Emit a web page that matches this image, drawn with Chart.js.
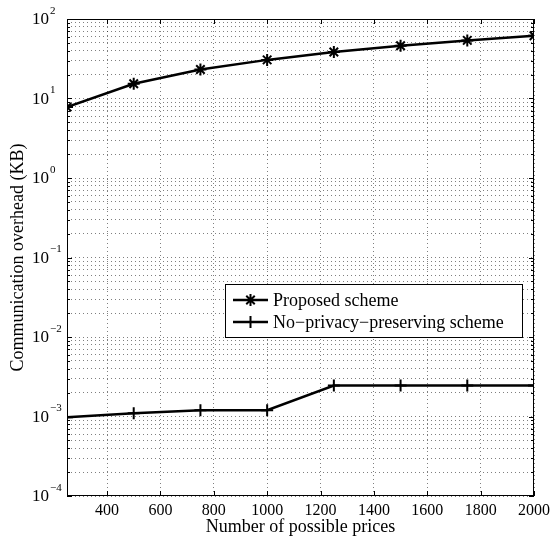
<!DOCTYPE html>
<html>
<head>
<meta charset="utf-8">
<script src="https://cdn.jsdelivr.net/npm/chart.js@4.4.1/dist/chart.umd.min.js"></script>
<style>
  html, body { margin: 0; padding: 0; background: #fff; }
</style>
</head>
<body>
<canvas id="overheadChart" width="555" height="538"></canvas>
<script>
// values
var prices = [250, 500, 750, 1000, 1250, 1500, 1750, 2000];
var proposed = [7.8, 15.3, 23.2, 30.6, 38.5, 46, 53.8, 61.5];
var noPrivacy = [0.00098, 0.0011, 0.0012, 0.0012, 0.00245, 0.00245, 0.00245, 0.00245];
var xTicks = [400, 600, 800, 1000, 1200, 1400, 1600, 1800, 2000];
var yDecades = [-4, -3, -2, -1, 0, 1, 2];
var seriesNames = ['Proposed scheme', 'No\u2212privacy\u2212preserving scheme'];

var serif = '"Liberation Serif", "Times New Roman", serif';

function points(ys) {
  return prices.map(function (p, i) { return { x: p, y: ys[i] }; });
}

// every 1..9 x 10^k tick for the dotted log grid
var yGridTicks = [];
yDecades.forEach(function (e, i) {
  if (i === yDecades.length - 1) { yGridTicks.push({ value: Math.pow(10, e) }); return; }
  for (var m = 1; m <= 9; m++) yGridTicks.push({ value: m * Math.pow(10, e) });
});

var matlabFrame = {
  id: 'matlabFrame',
  afterDraw: function (chart) {
    var ctx = chart.ctx;
    var a = chart.chartArea;
    var xs = chart.scales.x, ys = chart.scales.y;
    ctx.save();
    ctx.strokeStyle = '#000';
    ctx.lineWidth = 1;
    ctx.strokeRect(a.left + 0.5, a.top + 0.5, a.right - a.left - 1, a.bottom - a.top - 1);

    // inward tick marks
    ctx.beginPath();
    xTicks.forEach(function (v) {
      var px = Math.round(xs.getPixelForValue(v)) + 0.5;
      ctx.moveTo(px, a.bottom); ctx.lineTo(px, a.bottom - 5);
      ctx.moveTo(px, a.top); ctx.lineTo(px, a.top + 5);
    });
    yGridTicks.forEach(function (t) {
      var py = Math.round(ys.getPixelForValue(t.value)) + 0.5;
      var major = Math.abs(Math.log10(t.value) - Math.round(Math.log10(t.value))) < 1e-9;
      var len = major ? 5 : 3;
      ctx.moveTo(a.left, py); ctx.lineTo(a.left + len, py);
      ctx.moveTo(a.right, py); ctx.lineTo(a.right - len, py);
    });
    ctx.stroke();

    // y tick labels 10^k
    ctx.fillStyle = '#000';
    ctx.textBaseline = 'middle';
    ctx.textAlign = 'left';
    yDecades.forEach(function (e) {
      var py = ys.getPixelForValue(Math.pow(10, e));
      ctx.font = '17px ' + serif;
      ctx.fillText('10', 32, py + 1);
      var w = ctx.measureText('10').width;
      ctx.font = '11px ' + serif;
      ctx.fillText(String(e).replace('-', '\u2212'), 33 + w, py - 8);
    });

    // legend box
    var lx = 225, ly = 284, lw = 297, lh = 53;
    ctx.fillStyle = '#fff';
    ctx.fillRect(lx, ly, lw, lh);
    ctx.strokeRect(lx + 0.5, ly + 0.5, lw, lh);
    chart.data.datasets.forEach(function (ds, i) {
      var cy = ly + 16 + i * 22;
      ctx.beginPath();
      ctx.lineWidth = 2.5;
      ctx.moveTo(lx + 8, cy); ctx.lineTo(lx + 43, cy);
      ctx.stroke();
      ctx.lineWidth = 2;
      Chart.helpers.drawPoint(ctx, { pointStyle: ds.pointStyle, radius: 6, borderWidth: 2 }, lx + 25.5, cy);
      ctx.fillStyle = '#000';
      ctx.font = '18px ' + serif;
      ctx.textBaseline = 'middle';
      ctx.fillText(ds.label, lx + 48, cy + 1);
    });
    ctx.restore();
  }
};

new Chart(document.getElementById('overheadChart').getContext('2d'), {
  type: 'line',
  data: {
    datasets: [{
      label: seriesNames[0],
      data: points(proposed),
      borderColor: '#000',
      backgroundColor: '#000',
      borderWidth: 2.5,
      pointStyle: 'star',
      pointRadius: 6,
      pointBorderWidth: 2,
      tension: 0
    }, {
      label: seriesNames[1],
      data: points(noPrivacy),
      borderColor: '#000',
      backgroundColor: '#000',
      borderWidth: 2.5,
      pointStyle: 'cross',
      pointRadius: 6,
      pointBorderWidth: 2,
      tension: 0
    }]
  },
  options: {
    responsive: false,
    animation: false,
    layout: { padding: { top: 19, right: 19, left: 0, bottom: 0 } },
    plugins: {
      legend: { display: false },
      tooltip: { enabled: false }
    },
    scales: {
      x: {
        type: 'linear',
        min: 250,
        max: 2000,
        afterBuildTicks: function (scale) {
          scale.ticks = xTicks.map(function (v) { return { value: v }; });
        },
        afterFit: function (scale) { scale.height = 42; },
        grid: { color: 'rgba(0,0,0,0.5)', lineWidth: 1, drawTicks: false },
        border: { display: false, dash: [1, 3] },
        ticks: {
          color: '#000',
          padding: 5,
          maxRotation: 0,
          font: { family: serif, size: 16 },
          callback: function (v) { return String(v); }
        },
        title: {
          display: true,
          text: 'Number of possible prices',
          color: '#000',
          padding: { top: 0, bottom: 0 },
          font: { family: serif, size: 18 }
        }
      },
      y: {
        type: 'logarithmic',
        min: 1e-4,
        max: 100,
        afterBuildTicks: function (scale) {
          scale.ticks = yGridTicks.map(function (t) { return { value: t.value }; });
        },
        afterFit: function (scale) { scale.width = 67; },
        grid: { color: 'rgba(0,0,0,0.5)', lineWidth: 1, drawTicks: false },
        border: { display: false, dash: [1, 3] },
        ticks: { display: false },
        title: {
          display: true,
          text: 'Communication overhead (KB)',
          color: '#000',
          padding: { top: 7, bottom: 0 },
          font: { family: serif, size: 18 }
        }
      }
    }
  },
  plugins: [matlabFrame]
});
</script>
</body>
</html>
